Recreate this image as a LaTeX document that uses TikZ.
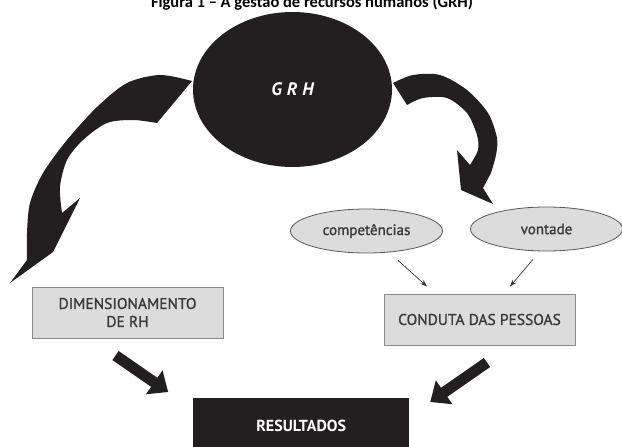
\documentclass[tikz,border=0pt]{standalone}
\usepackage{fontspec}
\setmainfont{Carlito}
\setsansfont{PT Sans}
\newfontfamily\dinfont[FakeBold=1.2]{PT Sans}
\usetikzlibrary{arrows.meta,shapes.geometric}
\definecolor{grhblack}{HTML}{231F20}
\definecolor{boxgray}{HTML}{DCDCDC}
\definecolor{linegray}{HTML}{8A8A8A}
\definecolor{txtgray}{HTML}{3A3A3A}

\begin{document}
\begin{tikzpicture}[x=1pt,y=-1pt,
  graybox/.style={draw=linegray,line width=1pt,fill=boxgray,inner sep=0pt,
    minimum width=191pt,minimum height=51pt,align=center,text=txtgray,
    font=\dinfont\fontsize{15.5}{18}\selectfont},
  grayoval/.style={ellipse,draw=gray!70!black,line width=0.8pt,fill=boxgray,
    inner sep=0pt,minimum width=152pt,minimum height=44pt,text=txtgray,
    font=\dinfont\fontsize{15}{17}\selectfont},
  bigarrow/.style={line width=11pt,grhblack,-{Triangle[width=28pt,length=17pt]}},
  thinarrow/.style={line width=0.7pt,txtgray,-{Stealth[length=7pt,width=5pt]}}]
\useasboundingbox (0,0) rectangle (622,447);
\clip (0,0) rectangle (622,447);
\node[anchor=base,font=\bfseries\fontsize{16.5}{19}\selectfont] (title) at (312,7.5)
  {Figura 1 – A gestão de recursos humanos (GRH)};
\node[ellipse,fill=grhblack,minimum width=199pt,minimum height=155pt,inner sep=0pt,
  text=white,font=\sffamily\bfseries\itshape\fontsize{18}{20}\selectfont]
  (grh) at (292.5,89.5) {G\hspace{5pt}R\hspace{5pt}H};
\node[graybox] (dim) at (127.5,312.5) {DIMENSIONAMENTO\\DE RH};
\node[graybox] (cond) at (479.5,319.5) {CONDUTA DAS PESSOAS};
\node[grayoval] (comp) at (366.5,231) {competências};
\node[grayoval] (vont) at (546.5,229) {vontade};
\node[fill=grhblack,minimum width=216pt,minimum height=56pt,inner sep=0pt,
  anchor=north west,text=white,font=\sffamily\bfseries\fontsize{16}{18}\selectfont]
  (res) at (193,398) {RESULTADOS};
\fill[grhblack] plot[smooth] coordinates {(192,81) (160,75) (127,83) (97,107) (67,140)
  (43,173) (30,203) (27,233) (27,260)} -- (10,283) -- (53,252) -- (80,198)
  -- plot[smooth] coordinates {(62,213) (60,187) (67,160) (83,140) (107,123) (133,120)
  (157,123)} -- cycle;
\fill[grhblack] plot[smooth] coordinates {(393,83) (413,75) (440,75) (467,90) (488,113)
  (497,138) (496,155) (491,173)} -- (483,188) -- (493,204) -- (461,190) -- (457,150)
  -- plot[smooth] coordinates {(470,165) (478,150) (477,135) (467,113) (447,98) (423,98)
  (407,105)} -- cycle;
\draw[bigarrow] ([shift={(-12,17)}]dim.south) -- ([shift={(-133,-6)}]res.north);
\draw[bigarrow] ([shift={(7.5,17)}]cond.south) -- ([shift={(129,4)}]res.north);
\draw[thinarrow] ([shift={(31.5,7)}]comp.south) -- ([shift={(-52.5,-7)}]cond.north);
\draw[thinarrow] ([shift={(-13.5,8)}]vont.south) -- ([shift={(30.5,-7)}]cond.north);
\end{tikzpicture}
\end{document}
